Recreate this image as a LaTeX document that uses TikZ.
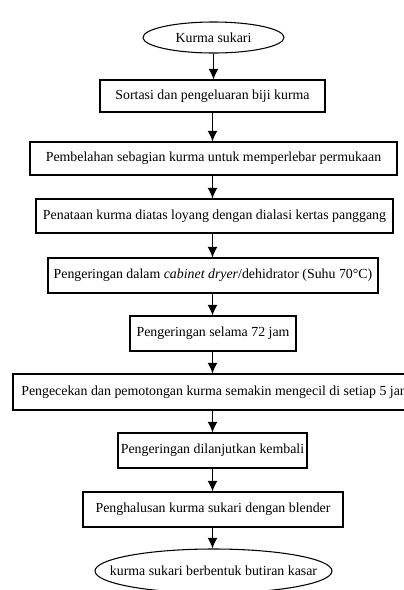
\documentclass[tikz,border=0pt]{standalone}
\usepackage{fontspec}
\setmainfont{Liberation Serif}
\usetikzlibrary{arrows.meta,shapes.geometric}
\begin{document}
\begin{tikzpicture}[x=0.75pt,y=-0.75pt,
  txt/.style={font=\fontsize{10.4}{12}\selectfont},
  box/.style={txt,draw,line width=0.8pt,rectangle,inner sep=0pt},
  ell/.style={txt,draw,line width=0.8pt,ellipse,inner sep=0pt},
  arr/.style={line width=0.8pt,-{Latex[length=8pt,width=7.5pt]}}]
\useasboundingbox (0,0) rectangle (404,590);
\clip (0,0) rectangle (404,590);
\node[ell,minimum width=141*0.75pt,minimum height=31*0.75pt] (e1) at (213.5,37.5) {\makebox[0pt]{Kurma sukari}};
\node[box,minimum width=225*0.75pt,minimum height=32*0.75pt] (b1) at (212.5,96) {Sortasi dan pengeluaran biji kurma};
\node[box,minimum width=367*0.75pt,minimum height=33*0.75pt] (b2) at (213.5,158.5) {Pembelahan sebagian kurma untuk memperlebar permukaan};
\node[box,minimum width=357*0.75pt,minimum height=34*0.75pt] (b3) at (214.5,216) {Penataan kurma diatas loyang dengan dialasi kertas panggang};
\node[box,minimum width=330*0.75pt,minimum height=35*0.75pt] (b4) at (213,275.5) {Pengeringan dalam \textit{cabinet dryer}/dehidrator (Suhu 70°C)};
\node[box,minimum width=166*0.75pt,minimum height=35*0.75pt] (b5) at (213,333.5) {Pengeringan selama 72 jam};
\node[box,minimum width=406*0.75pt,minimum height=36*0.75pt] (b6) at (216,392) {Pengecekan dan pemotongan kurma semakin mengecil di setiap 5 jam};
\node[box,minimum width=189*0.75pt,minimum height=35*0.75pt] (b7) at (212.5,450.5) {Pengeringan dilanjutkan kembali};
\node[box,minimum width=260*0.75pt,minimum height=35*0.75pt] (b8) at (213,509.5) {Penghalusan kurma sukari dengan blender};
\node[ell,minimum width=237*0.75pt,minimum height=44*0.75pt] (e2) at (213.5,571) {\makebox[0pt]{kurma sukari berbentuk butiran kasar}};
\draw[arr] (e1.south) -- (e1.south |- b1.north);
\draw[arr] (b1.south) -- (b1.south |- b2.north);
\draw[arr] (b2.south -| b1.south) -- (b1.south |- b3.north);
\draw[arr] (b3.south -| b1.south) -- (b1.south |- b4.north);
\draw[arr] (b4.south -| b1.south) -- (b1.south |- b5.north);
\draw[arr] (b5.south -| b1.south) -- (b1.south |- b6.north);
\draw[arr] (b6.south -| b1.south) -- (b1.south |- b7.north);
\draw[arr] (b7.south -| b1.south) -- (b1.south |- b8.north);
\draw[arr] (b8.south -| b1.south) -- (b1.south |- e2.north);
\end{tikzpicture}
\end{document}
